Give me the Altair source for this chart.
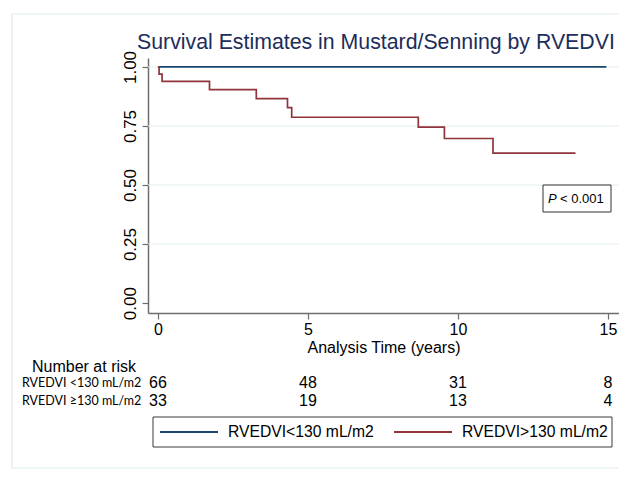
import altair as alt
import pandas as pd

# ---------------- data ----------------
groups = ["RVEDVI<130 mL/m2", "RVEDVI>130 mL/m2"]
colors = ["#1a476f", "#90353b"]
risk_labels = ["RVEDVI <130 mL/m2", "RVEDVI \u2265130 mL/m2"]

t_lo = [0.0, 14.95]
s_lo = [1.0, 1.0]
t_hi = [0.0, 0.04, 0.14, 1.72, 3.28, 4.32, 4.46, 8.68, 9.55, 11.17, 13.92]
s_hi = [1.0, 0.970, 0.939, 0.904, 0.866, 0.828, 0.787, 0.745, 0.697, 0.635, 0.635]

x_ticks = [0, 5, 10, 15]
y_ticks = [0.0, 0.25, 0.5, 0.75, 1.0]
grid_vals = [0.25, 0.5, 0.75, 1.0]

risk_times = [0, 5, 10, 15]
risk_lo = [66, 48, 31, 8]
risk_hi = [33, 19, 13, 4]

title_text = "Survival Estimates in Mustard/Senning by RVEDVI"
x_title = "Analysis Time (years)"
risk_title = "Number at risk"
p_sym = "P"
p_val = "< 0.001"

# ---------------- layout ----------------
FONT = "Liberation Sans"
W, H = 471, 255
xs = alt.Scale(domain=[-0.33, 15.37], nice=False, zero=False)
ys = alt.Scale(domain=[-0.042, 1.038], nice=False, zero=False)

curves = pd.DataFrame({
    "time": t_lo + t_hi,
    "surv": s_lo + s_hi,
    "group": [groups[0]] * len(t_lo) + [groups[1]] * len(t_hi),
})

layers = []

# outer light frame
layers.append(
    alt.Chart(pd.DataFrame({"a": [0]})).mark_rect(fill=None, stroke="#e0eaea", strokeWidth=1.2).encode(
        x=alt.value(-136), x2=alt.value(495), y=alt.value(-44), y2=alt.value(410)
    )
)

# grid
layers.append(
    alt.Chart(pd.DataFrame({"surv": grid_vals})).mark_rule(color="#e2eded", strokeWidth=1).encode(
        y=alt.Y("surv:Q", scale=ys)
    )
)

# curves with axes
layers.append(
    alt.Chart(curves).mark_line(interpolate="step-after", strokeWidth=1.7).encode(
        x=alt.X("time:Q", scale=xs, axis=alt.Axis(
            values=x_ticks, title=x_title, grid=False, labelFontSize=16, titleFontSize=16,
            labelFont=FONT, titleFont=FONT, labelColor="#000", titleColor="#000",
            titleFontWeight="normal", labelPadding=2, titlePadding=2, tickSize=6,
            domainColor="#6e6e6e", tickColor="#6e6e6e", domainWidth=1.5, tickWidth=1.2,
            labelFlush=False)),
        y=alt.Y("surv:Q", scale=ys, axis=alt.Axis(
            values=y_ticks, format=".2f", title=None, grid=False, labelAngle=270,
            labelAlign="center", labelBaseline="bottom", labelFontSize=17, labelFont=FONT,
            labelColor="#000", labelPadding=3, tickSize=6, domainColor="#6e6e6e",
            tickColor="#6e6e6e", domainWidth=1.5, tickWidth=1.2, labelFlush=False)),
        color=alt.Color("group:N", scale=alt.Scale(domain=groups, range=colors), legend=None),
    )
)

# title
layers.append(
    alt.Chart(pd.DataFrame({"t": [title_text]})).mark_text(
        align="left", baseline="alphabetic", font=FONT, fontSize=21.3, color="#1c2d5b"
    ).encode(text="t:N", x=alt.value(-11), y=alt.value(-9))
)

# number at risk title
layers.append(
    alt.Chart(pd.DataFrame({"t": [risk_title]})).mark_text(
        align="center", baseline="middle", font=FONT, fontSize=16, color="#000"
    ).encode(text="t:N", x=alt.value(-64), y=alt.value(309))
)

# risk rows
row_y = [325, 343]
for lab, counts, yy in zip(risk_labels, [risk_lo, risk_hi], row_y):
    layers.append(
        alt.Chart(pd.DataFrame({"t": [lab]})).mark_text(
            align="left", baseline="middle", font="Lato", fontSize=12.5, color="#000"
        ).encode(text="t:N", x=alt.value(-126), y=alt.value(yy))
    )
    layers.append(
        alt.Chart(pd.DataFrame({"time": risk_times, "n": counts})).mark_text(
            align="center", baseline="middle", font=FONT, fontSize=16, color="#000"
        ).encode(x=alt.X("time:Q", scale=xs), text="n:Q", y=alt.value(yy))
    )

# legend box
layers.append(
    alt.Chart(pd.DataFrame({"a": [0]})).mark_rect(fill="white", stroke="#3a3a3a", strokeWidth=1).encode(
        x=alt.value(5), x2=alt.value(464), y=alt.value(359), y2=alt.value(389)
    )
)
leg_x = [12, 246]
for g, c, lx in zip(groups, colors, leg_x):
    layers.append(
        alt.Chart(pd.DataFrame({"g": [g]})).mark_rule(color=c, strokeWidth=1.8).encode(
            x=alt.value(lx), x2=alt.value(lx + 58), y=alt.value(374)
        )
    )
    layers.append(
        alt.Chart(pd.DataFrame({"g": [g]})).mark_text(
            align="left", baseline="middle", font=FONT, fontSize=15.7, color="#000"
        ).encode(text="g:N", x=alt.value(lx + 68), y=alt.value(374))
    )

# p-value box
layers.append(
    alt.Chart(pd.DataFrame({"a": [0]})).mark_rect(fill="white", stroke="#333333", strokeWidth=1).encode(
        x=alt.value(395), x2=alt.value(463), y=alt.value(127), y2=alt.value(154)
    )
)
layers.append(
    alt.Chart(pd.DataFrame({"t": [p_sym]})).mark_text(
        align="left", baseline="middle", font=FONT, fontSize=13, fontStyle="italic", color="#000"
    ).encode(text="t:N", x=alt.value(400), y=alt.value(141))
)
layers.append(
    alt.Chart(pd.DataFrame({"t": [p_val]})).mark_text(
        align="left", baseline="middle", font=FONT, fontSize=13, color="#000"
    ).encode(text="t:N", x=alt.value(412), y=alt.value(141))
)

chart = alt.layer(*layers).properties(
    width=W, height=H,
    padding={"left": 140, "top": 50, "right": 0, "bottom": 162},
    autosize=alt.AutoSizeParams(type="none"),
    background="white",
).configure_view(stroke=None)

chart.save("out.html", embed_options={"renderer": "svg", "actions": False})
